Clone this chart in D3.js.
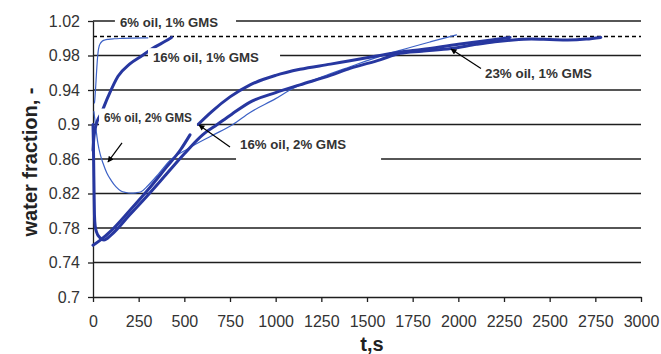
<!DOCTYPE html>
<html><head><meta charset="utf-8">
<script src="https://cdn.jsdelivr.net/npm/d3@7/dist/d3.min.js"></script>
<style>
html,body{margin:0;padding:0;background:#fff;}
svg{display:block;font-family:"Liberation Sans",Arial,sans-serif;}
</style></head>
<body>
<svg id="chart" width="661" height="354"></svg>
<script>
// ---------- data ----------
const xTicks = [0,250,500,750,1000,1250,1500,1750,2000,2250,2500,2750,3000];
const yTicks = [0.7,0.74,0.78,0.82,0.86,0.9,0.94,0.98,1.02];
const yTickLabels = ["0.7","0.74","0.78","0.82","0.86","0.9","0.94","0.98","1.02"];
const refValue = 1.002;

// 6% oil, 1% GMS (thin)
const tA = [8, 10, 13, 17, 21, 25, 29, 34, 40, 50, 65, 85, 115, 160, 220, 300];
const vA = [0.925, 0.929, 0.938, 0.952, 0.966, 0.978, 0.986, 0.991, 0.994, 0.9965, 0.998, 0.9988, 0.9994, 0.9998, 1.0002, 1.0004];
// 16% oil, 1% GMS (thick)
const tB = [0, 5, 10, 20, 45, 82, 137, 200, 270, 340, 400, 430];
const vB = [0.87, 0.885, 0.893, 0.902, 0.913, 0.932, 0.956, 0.97, 0.98, 0.99, 0.997, 1.001];
// 6% oil, 2% GMS (thin)
const tC = [5, 10, 15, 27, 40, 55, 75, 100, 125, 153, 180, 208, 235, 263, 300, 360, 420, 520, 650, 766, 860, 1000, 1078, 1250, 1407, 1570, 1681, 1850, 1990];
const vC = [0.915, 0.906, 0.897, 0.878, 0.865, 0.855, 0.844, 0.835, 0.828, 0.823, 0.8212, 0.8204, 0.8208, 0.822, 0.829, 0.843, 0.858, 0.872, 0.887, 0.9, 0.914, 0.93, 0.94, 0.955, 0.967, 0.979, 0.986, 0.996, 1.004];
// 16% oil, 2% GMS (thick, with a gap)
const tD = [0, 40, 100, 200, 300, 400, 480, 531, 550, 575, 650, 750, 860, 1000, 1133, 1300, 1407, 1571, 1681, 1800, 2000, 2150, 2283];
const vD = [0.760, 0.766, 0.777, 0.80, 0.824, 0.850, 0.871, 0.888, null, 0.90, 0.915, 0.932, 0.946, 0.957, 0.964, 0.970, 0.974, 0.980, 0.984, 0.987, 0.993, 0.997, 1.001];
// 23% oil, 1% GMS (thick)
const tE = [0, 2, 4, 6, 8, 12, 20, 37, 60, 100, 200, 300, 400, 500, 600, 680, 760, 860, 1000, 1133, 1300, 1407, 1571, 1681, 1800, 1960, 2100, 2200, 2300, 2400, 2500, 2600, 2700, 2780];
const vE = [0.9, 0.88, 0.85, 0.82, 0.795, 0.782, 0.775, 0.769, 0.766, 0.772, 0.795, 0.818, 0.842, 0.866, 0.888, 0.9, 0.912, 0.926, 0.937, 0.946, 0.957, 0.965, 0.975, 0.9825, 0.985, 0.988, 0.993, 0.996, 0.998, 0.999, 0.9985, 0.998, 0.999, 1.001];

// annotation labels (data coordinates): text anchor, white box extents
const labelText = ["6% oil, 1% GMS","16% oil, 1% GMS","6% oil, 2% GMS","16% oil, 2% GMS","23% oil, 1% GMS"];
const labelT = [148, 328, 60, 805, 2146];
const labelV = [1.0130, 0.9725, 0.9029, 0.8716, 0.9539];
const labelW = [98, 106, 88, 106, 107];
const boxT0 = [120, 301, 33, 783, 2120];
const boxT1 = [783, 1024, 569, 1577, 2720];
const boxV0 = [1.005, 0.9665, 0.8965, 0.8555, 0.950];
const boxV1 = [1.025, 0.9885, 0.9185, 0.8975, 0.965];
// arrows (data coordinates): tail -> head
const arrowT0 = [159, 750, 2124];
const arrowV0 = [0.8786, 0.8739, 0.9649];
const arrowT1 = [82, 580, 1960];
const arrowV1 = [0.8566, 0.8994, 0.9875];

// ---------- drawing ----------
const svg = d3.select("#chart");
const x = d3.scaleLinear().domain([0,3000]).range([93,641]);
const y = d3.scaleLinear().domain([0.7,1.02]).range([297,21]);

const thick = "#2737a0", thin = "#3d62c6", ink = "#1e1e1e", txt = "#333";
const FONT = "Liberation Sans, Arial, sans-serif";

// gridlines
svg.append("g").selectAll("line").data(yTicks.filter(v => v > 0.7)).join("line")
  .attr("x1", x(0)).attr("x2", x(3000))
  .attr("y1", d => y(d)).attr("y2", d => y(d))
  .attr("stroke", ink).attr("stroke-width", 1.3);

// dashed reference line
svg.append("line")
  .attr("x1", x(0)).attr("x2", x(3000))
  .attr("y1", y(refValue)).attr("y2", y(refValue))
  .attr("stroke", "#000").attr("stroke-width", 1.6).attr("stroke-dasharray", "4,3");

// axes
const yAxis = d3.axisLeft(y).tickValues(yTicks).tickFormat((d,i) => yTickLabels[i]).tickSize(5).tickSizeOuter(0);
const gy = svg.append("g").attr("transform", `translate(${x(0)},0)`).call(yAxis);
gy.select(".domain").attr("stroke", ink).attr("stroke-width", 1.3);
gy.selectAll(".tick line").attr("stroke", ink).attr("stroke-width", 1.3);
gy.selectAll(".tick text").attr("font-size", 16).attr("fill", txt).attr("x", -13)
  .attr("font-family", FONT);

const xAxis = d3.axisBottom(x).tickValues(xTicks).tickFormat(d3.format("d")).tickSize(5).tickSizeOuter(0);
const gx = svg.append("g").attr("transform", `translate(0,${y(0.7)})`).call(xAxis);
gx.select(".domain").attr("stroke", ink).attr("stroke-width", 1.3);
gx.selectAll(".tick line").attr("stroke", ink).attr("stroke-width", 1.3);
gx.selectAll(".tick text").attr("font-size", 16).attr("fill", txt).attr("y", 19)
  .attr("font-family", FONT);

// curves
const zip = (ts, vs) => ts.map((t,i) => [t, vs[i]]);
const line = d3.line().defined(d => d[1] != null).x(d => x(d[0])).y(d => y(d[1])).curve(d3.curveMonotoneX);
const series = [
  {pts: zip(tC, vC), color: thin, w: 1.2},
  {pts: zip(tA, vA), color: thin, w: 1.2},
  {pts: zip(tE, vE), color: thick, w: 3},
  {pts: zip(tD, vD), color: thick, w: 3},
  {pts: zip(tB, vB), color: thick, w: 3},
];
svg.append("g").selectAll("path").data(series).join("path")
  .attr("d", d => line(d.pts)).attr("fill", "none")
  .attr("stroke", d => d.color).attr("stroke-width", d => d.w)
  .attr("stroke-linejoin", "round").attr("stroke-linecap", "round");

// label boxes and text
const lab = svg.append("g");
labelText.forEach((s, i) => {
  lab.append("rect")
    .attr("x", x(boxT0[i])).attr("width", x(boxT1[i]) - x(boxT0[i]))
    .attr("y", y(boxV1[i])).attr("height", y(boxV0[i]) - y(boxV1[i]))
    .attr("fill", "#fff");
  lab.append("text").attr("x", x(labelT[i])).attr("y", y(labelV[i]))
    .attr("font-size", 13).attr("font-weight", "bold").attr("fill", txt)
    .attr("textLength", labelW[i]).attr("lengthAdjust", "spacingAndGlyphs")
    .text(s);
});

// arrows
const defs = svg.append("defs");
defs.append("marker").attr("id", "ah").attr("viewBox", "0 0 10 10")
  .attr("refX", 9).attr("refY", 5).attr("markerWidth", 7).attr("markerHeight", 6)
  .attr("markerUnits", "userSpaceOnUse").attr("orient", "auto")
  .append("path").attr("d", "M0,0 L10,5 L0,10 z").attr("fill", "#000");
svg.append("g").selectAll("line").data(arrowT0).join("line")
  .attr("x1", (d,i) => x(arrowT0[i])).attr("y1", (d,i) => y(arrowV0[i]))
  .attr("x2", (d,i) => x(arrowT1[i])).attr("y2", (d,i) => y(arrowV1[i]))
  .attr("stroke", "#000").attr("stroke-width", 1.2).attr("marker-end", "url(#ah)");

// axis titles
svg.append("text").attr("transform", "translate(37,162) rotate(-90)")
  .attr("text-anchor", "middle").attr("font-size", 20).attr("font-weight", "bold").attr("fill", "#222")
  .text("water fraction, -");
svg.append("text").attr("x", 372).attr("y", 351)
  .attr("text-anchor", "middle").attr("font-size", 20).attr("font-weight", "bold").attr("fill", "#222")
  .text("t,s");
</script>
</body></html>
